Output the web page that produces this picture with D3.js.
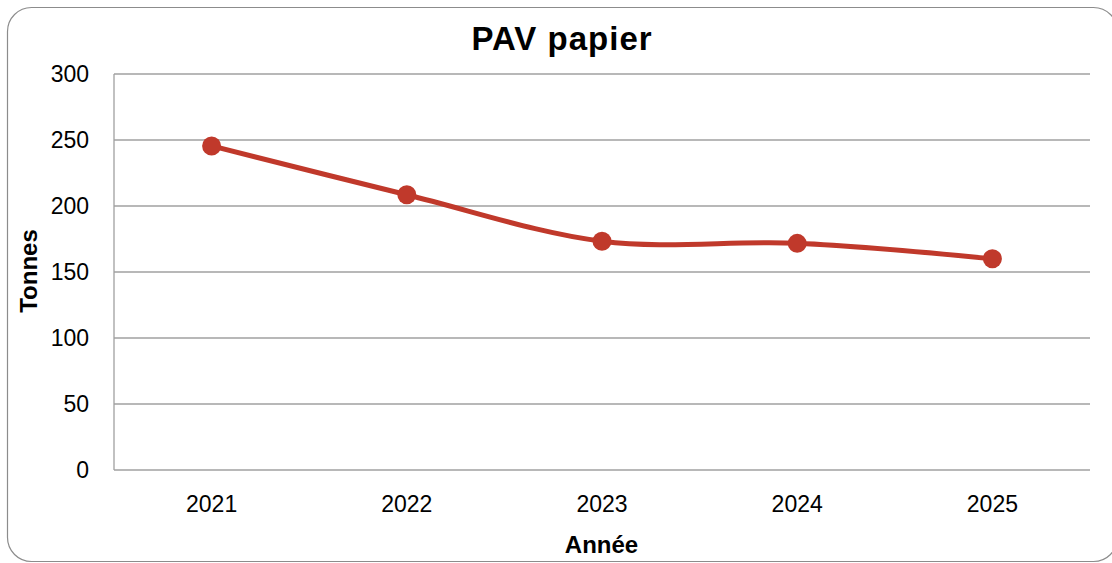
<!DOCTYPE html>
<html><head><meta charset="utf-8">
<script src="https://cdn.jsdelivr.net/npm/d3@7"></script>
<style>body{margin:0;background:#fff;}svg{display:block;font-family:"Liberation Sans",Arial,sans-serif;}</style>
</head><body>
<svg id="c" width="1112" height="563"></svg>
<script>
const categories = ["2021","2022","2023","2024","2025"];
const values = [245.5, 208.5, 173.3, 171.7, 160];
const yTicks = [0,50,100,150,200,250,300];
const title = "PAV papier";
const xTitle = "Année";
const yTitle = "Tonnes";

const svg = d3.select("#c");
const m = {left:114, right:1090, top:74, bottom:470};
const color = "#C0392B";

svg.append("rect").attr("x",7.5).attr("y",7.5).attr("width",1110).attr("height",554)
  .attr("rx",24).attr("fill","#fff").attr("stroke","#8c8c8c").attr("stroke-width",1.2);

const x = d3.scaleBand().domain(categories).range([m.left,m.right]);
const y = d3.scaleLinear().domain([0,300]).range([m.bottom,m.top]);

// gridlines
svg.append("g").selectAll("line").data(yTicks).join("line")
  .attr("x1",m.left).attr("x2",m.right)
  .attr("y1",d=>y(d)).attr("y2",d=>y(d))
  .attr("stroke","#a0a0a0").attr("stroke-width",1.3);

// y axis line
svg.append("line").attr("x1",m.left).attr("x2",m.left).attr("y1",m.top).attr("y2",m.bottom)
  .attr("stroke","#a0a0a0").attr("stroke-width",1.3);

// y axis labels
const yAxis = d3.axisLeft(y).tickValues(yTicks).tickSize(0).tickPadding(25);
const gy = svg.append("g").attr("transform",`translate(${m.left},0)`).call(yAxis);
gy.select(".domain").remove();
gy.selectAll("text").attr("font-size",23).attr("fill","#000").attr("font-family","Liberation Sans, Arial, sans-serif");

// x axis labels
const xAxis = d3.axisBottom(x).tickSize(0).tickPadding(26);
const gx = svg.append("g").attr("transform",`translate(0,${m.bottom})`).call(xAxis);
gx.select(".domain").remove();
gx.selectAll("text").attr("font-size",23).attr("fill","#000").attr("font-family","Liberation Sans, Arial, sans-serif");

// line
const pts = categories.map((c,i)=>[x(c)+x.bandwidth()/2, y(values[i])]);
svg.append("path").datum(pts)
  .attr("d", d3.line().curve(d3.curveCatmullRom.alpha(0)))
  .attr("fill","none").attr("stroke",color).attr("stroke-width",5).attr("stroke-linecap","round");
svg.append("g").selectAll("circle").data(pts).join("circle")
  .attr("cx",d=>d[0]).attr("cy",d=>d[1]).attr("r",9.5).attr("fill",color);

// titles
svg.append("text").attr("x",562).attr("y",49.5).attr("text-anchor","middle")
  .attr("font-size",33).attr("font-weight","bold").attr("letter-spacing",1).attr("fill","#000").text(title);
svg.append("text").attr("x",601.5).attr("y",552.5).attr("text-anchor","middle")
  .attr("font-size",24).attr("font-weight","bold").attr("fill","#000").text(xTitle);
svg.append("text").attr("transform",`translate(37,271) rotate(-90)`).attr("text-anchor","middle")
  .attr("font-size",24).attr("font-weight","bold").attr("fill","#000").text(yTitle);
</script>
</body></html>
